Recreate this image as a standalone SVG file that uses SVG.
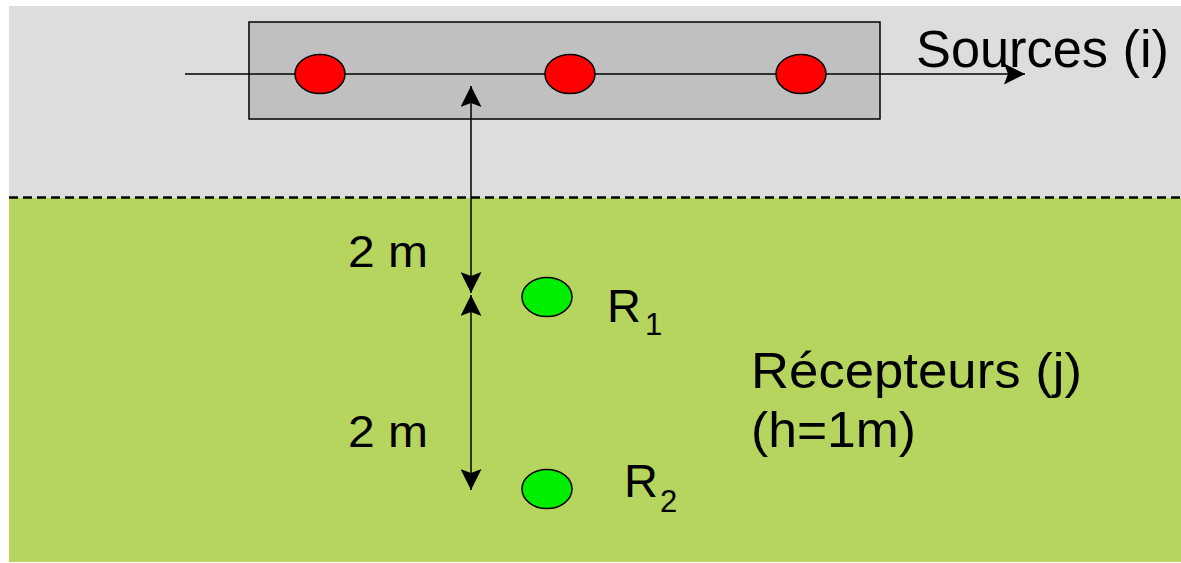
<svg xmlns="http://www.w3.org/2000/svg" width="1181" height="563" viewBox="0 0 1181 563">
<style>
text{font-family:"Liberation Sans",Arial,sans-serif;fill:#000}
.ln{stroke:#000;stroke-width:1.5;fill:none}
.src{fill:#FF0000;stroke:#000;stroke-width:1.5}
.rcv{fill:#00EE00;stroke:#000;stroke-width:1.5}
</style>
<defs>
<marker id="ah" viewBox="0 0 21 21" refX="21" refY="10.5" markerWidth="21" markerHeight="21" markerUnits="userSpaceOnUse" orient="auto-start-reverse">
<path d="M0,0 L21,10.5 L0,21 L4,10.5 Z" fill="#000"/>
</marker>
</defs>
<rect x="0" y="0" width="1181" height="563" fill="#fff"/>
<rect x="9" y="6" width="1172" height="192" fill="#DDDDDD"/>
<rect x="9" y="198" width="1172" height="364" fill="#B5D55F"/>
<line x1="9" y1="197.5" x2="1181" y2="197.5" stroke="#000" stroke-width="2.5" stroke-dasharray="9,5"/>
<g id="sourcebox">
<rect x="249" y="22" width="631" height="97" fill="#C0C0C0" stroke="#000" stroke-width="1.5"/>
</g>
<g id="connectors">
<line class="ln" x1="185" y1="74" x2="1025" y2="74" marker-end="url(#ah)"/>
<line class="ln" x1="471" y1="86" x2="471" y2="293" marker-start="url(#ah)" marker-end="url(#ah)"/>
<line class="ln" x1="471" y1="295" x2="471" y2="490" marker-start="url(#ah)" marker-end="url(#ah)"/>
</g>
<g id="s1"><ellipse class="src" cx="320" cy="74" rx="25" ry="19.5"/></g>
<g id="s2"><ellipse class="src" cx="570" cy="74" rx="25" ry="19.5"/></g>
<g id="s3"><ellipse class="src" cx="801" cy="74" rx="25" ry="19.5"/></g>
<g id="r1"><ellipse class="rcv" cx="547" cy="297" rx="25" ry="19.5"/>
<text x="607" y="322" font-size="47">R<tspan x="645" y="335" font-size="31">1</tspan></text></g>
<g id="r2"><ellipse class="rcv" cx="547" cy="489" rx="25" ry="19.5"/>
<text x="624" y="497" font-size="47">R<tspan x="660" y="512" font-size="31">2</tspan></text></g>
<g id="labels">
<text x="916" y="67" font-size="51" textLength="253" lengthAdjust="spacingAndGlyphs">Sources (i)</text>
<text x="751" y="388" font-size="50" textLength="331" lengthAdjust="spacingAndGlyphs">Récepteurs (j)</text>
<text x="751" y="447" font-size="50" textLength="165" lengthAdjust="spacingAndGlyphs">(h=1m)</text>
<text x="348" y="267" font-size="44" textLength="80" lengthAdjust="spacingAndGlyphs">2 m</text>
<text x="348" y="447" font-size="44" textLength="80" lengthAdjust="spacingAndGlyphs">2 m</text>
</g>
</svg>
